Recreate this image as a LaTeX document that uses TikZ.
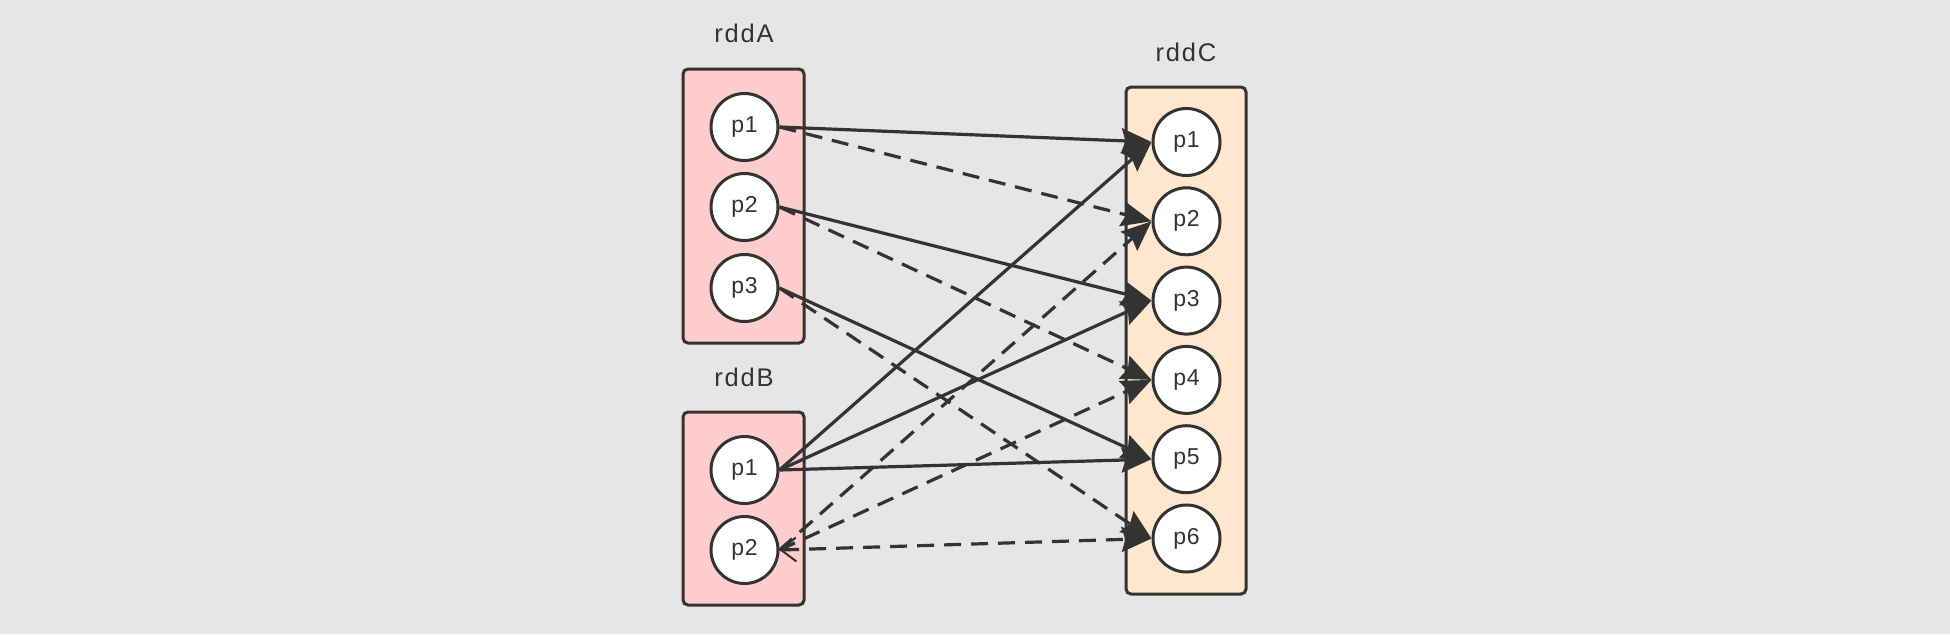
\documentclass[tikz,border=0pt]{standalone}
\usepackage{fontspec}
\setmainfont{Liberation Sans}
\newfontfamily\lblfont[LetterSpace=7]{Liberation Sans}
\newfontfamily\partfont[LetterSpace=3]{Liberation Sans}
\usetikzlibrary{arrows.meta}
\definecolor{bg}{HTML}{E6E6E6}
\definecolor{ink}{HTML}{333333}
\definecolor{pinkfill}{HTML}{FFCCCC}
\definecolor{peachfill}{HTML}{FFE6CC}
\tikzset{
  rddbox/.style={draw=ink, line width=3pt, rounded corners=5pt},
  part/.style={circle, draw=ink, fill=white, line width=3pt, minimum size=67pt, inner sep=0pt,
    text=ink, font=\partfont\fontsize{23}{27}\selectfont},
  rddlabel/.style={text=ink, font=\lblfont\fontsize{25.5}{29}\selectfont, inner sep=0pt},
  link/.style={draw=ink, line width=3.2pt, -{Stealth[length=30pt,width=25pt,inset=4pt]}},
  dlink/.style={link, dash pattern=on 17pt off 10pt},
}
\begin{document}
\begin{tikzpicture}[x=1pt,y=-1pt]
\useasboundingbox (0,0) rectangle (1950,634);
\fill[bg] (0,0) rectangle (1950,634);
% boxes
\draw[rddbox, fill=pinkfill] (683,69) rectangle (804,343);
\draw[rddbox, fill=pinkfill] (683,412) rectangle (804,605);
\draw[rddbox, fill=peachfill] (1126,87) rectangle (1246,594);
% labels
\node[rddlabel] (la) at (744,33) {rddA};
\node[rddlabel] (lb) at (744,377) {rddB};
\node[rddlabel] (lc) at (1186,52) {rddC};
% partitions
\node[part] (a1) at (744.5,127) {p1};
\node[part] (a2) at (744.5,207) {p2};
\node[part] (a3) at (744.5,288) {p3};
\node[part] (b1) at (744.5,470) {p1};
\node[part] (b2) at (744.5,550) {p2};
\node[part] (c1) at (1186.5,142) {p1};
\node[part] (c2) at (1186.5,221.3) {p2};
\node[part] (c3) at (1186.5,300.6) {p3};
\node[part] (c4) at (1186.5,379.9) {p4};
\node[part] (c5) at (1186.5,459.2) {p5};
\node[part] (c6) at (1186.5,538.5) {p6};
% edges from rddA
\draw[link] (a1.east) -- (c1.west);
\draw[dlink] (a1.east) -- (c2.west);
\draw[link] (a2.east) -- (c3.west);
\draw[dlink] (a2.east) -- (c4.west);
\draw[link] (a3.east) -- (c5.west);
\draw[dlink] (a3.east) -- (c6.west);
% edges from rddB
\draw[link] (b1.east) -- (c1.west);
\draw[link] (b1.east) -- (c3.west);
\draw[link] (b1.east) -- (c5.west);
\draw[dlink] (b2.east) -- (c2.west);
\draw[dlink] (b2.east) -- (c4.west);
\draw[dlink, {Straight Barb[length=15pt,width=24pt,line width=2pt]}-{Stealth[length=30pt,width=25pt,inset=4pt]}] (b2.east) -- (c6.west);
\end{tikzpicture}
\end{document}
